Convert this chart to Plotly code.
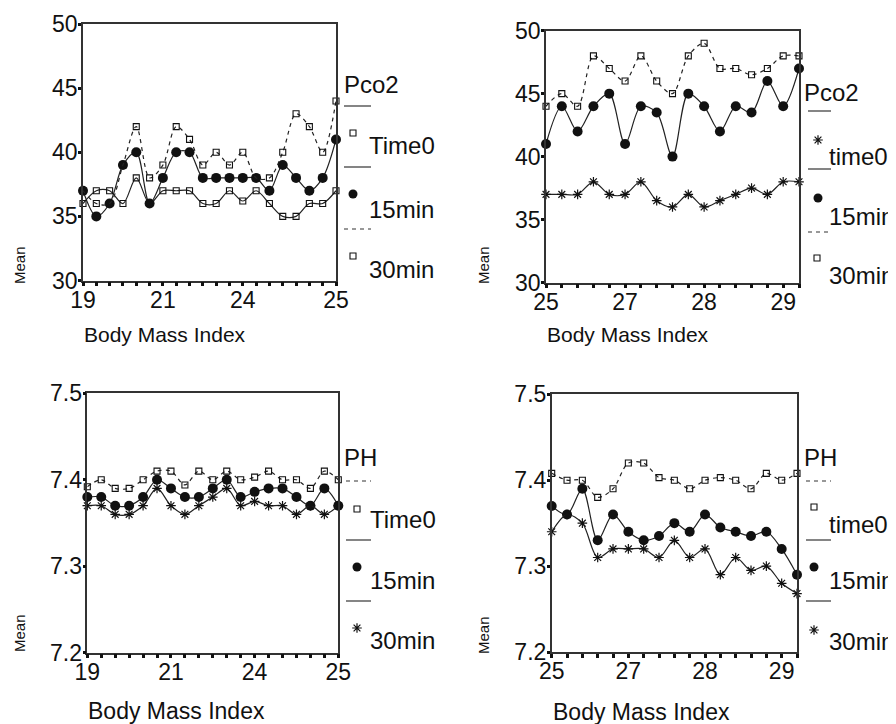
import plotly.graph_objects as go

# ---------------- data ----------------
# Panel 1: Pco2, BMI 19-25
p1_tickpos = [0, 6, 12, 19]
p1_ticklab = ["19", "21", "24", "25"]
p1_time0 = [36, 37, 37, 36, 38, 36, 37, 37, 37, 36, 36, 37, 36.2, 37, 36, 35, 35, 36, 36, 37]
p1_15min = [37, 35, 36, 39, 40, 36, 38, 40, 40, 38, 38, 38, 38, 38, 37, 39, 38, 37, 38, 41]
p1_30min = [37, 36, 36, 39, 42, 38, 39, 42, 41, 39, 40, 39, 40, 38, 38, 40, 43, 42, 40, 44]

# Panel 2: Pco2, BMI 25-29
p2_tickpos = [0, 5, 10, 15]
p2_ticklab = ["25", "27", "28", "29"]
p2_time0 = [37, 37, 37, 38, 37, 37, 38, 36.5, 36, 37, 36, 36.5, 37, 37.5, 37, 38, 38]
p2_15min = [41, 44, 42, 44, 45, 41, 44, 43.5, 40, 45, 44, 42, 44, 43.5, 46, 44, 47]
p2_30min = [44, 45, 44, 48, 47, 46, 48, 46, 45, 48, 49, 47, 47, 46.5, 47, 48, 48]

# Panel 3: PH, BMI 19-25
p3_tickpos = [0, 6, 12, 18]
p3_ticklab = ["19", "21", "24", "25"]
p3_time0 = [7.392, 7.40, 7.39, 7.39, 7.40, 7.41, 7.41, 7.394, 7.41, 7.40, 7.41, 7.40, 7.403, 7.41, 7.40, 7.40, 7.39, 7.41, 7.40]
p3_15min = [7.38, 7.38, 7.37, 7.37, 7.38, 7.40, 7.39, 7.38, 7.38, 7.39, 7.40, 7.38, 7.386, 7.39, 7.39, 7.38, 7.37, 7.39, 7.37]
p3_30min = [7.37, 7.37, 7.36, 7.36, 7.37, 7.39, 7.37, 7.36, 7.37, 7.38, 7.39, 7.37, 7.375, 7.37, 7.37, 7.36, 7.37, 7.36, 7.37]

# Panel 4: PH, BMI 25-29
p4_tickpos = [0, 5, 10, 15]
p4_ticklab = ["25", "27", "28", "29"]
p4_time0 = [7.408, 7.40, 7.40, 7.38, 7.39, 7.42, 7.42, 7.403, 7.40, 7.39, 7.40, 7.403, 7.40, 7.39, 7.408, 7.40, 7.408]
p4_15min = [7.37, 7.36, 7.39, 7.33, 7.36, 7.34, 7.33, 7.335, 7.35, 7.34, 7.36, 7.345, 7.34, 7.335, 7.34, 7.32, 7.29]
p4_30min = [7.34, 7.36, 7.35, 7.31, 7.32, 7.32, 7.32, 7.31, 7.33, 7.31, 7.32, 7.29, 7.31, 7.295, 7.30, 7.28, 7.268]

pco2_ticks = [30, 35, 40, 45, 50]
ph_ticks = [7.2, 7.3, 7.4, 7.5]
ph_ticklab = ["7.2", "7.3", "7.4", "7.5"]

# ---------------- styling ----------------
OFF = 8                      # page body margin
W, H = 896 - OFF, 724 - OFF  # figure size so the page fits the window
FONT = "Liberation Sans, Arial, sans-serif"
INK = "#111111"
LINE = "#222222"
AXC = "#333333"

def fx(px):
    return (px - OFF) / W

def fy(py):
    return 1 - (py - OFF) / H

SQ = dict(symbol="square-open", size=6, color=INK, line=dict(width=1.1, color=INK))
CI = dict(symbol="circle", size=10, color=INK)
AS = dict(symbol="asterisk-open", size=8, color=INK, line=dict(width=1.2, color=INK))

fig = go.Figure()

panels = [
    ("", (83, 336), (24, 280.5), [30, 50], pco2_ticks, [str(v) for v in pco2_ticks], p1_tickpos, p1_ticklab,
     [(p1_time0, SQ, "solid"), (p1_15min, CI, "solid"), (p1_30min, SQ, "dash")]),
    ("2", (546, 799), (30.7, 282.5), [30, 50], pco2_ticks, [str(v) for v in pco2_ticks], p2_tickpos, p2_ticklab,
     [(p2_time0, AS, "solid"), (p2_15min, CI, "solid"), (p2_30min, SQ, "dash")]),
    ("3", (87.3, 338.3), (393.3, 652.7), [7.2, 7.5], ph_ticks, ph_ticklab, p3_tickpos, p3_ticklab,
     [(p3_time0, SQ, "dash"), (p3_15min, CI, "solid"), (p3_30min, AS, "solid")]),
    ("4", (551.7, 797), (394.3, 652), [7.2, 7.5], ph_ticks, ph_ticklab, p4_tickpos, p4_ticklab,
     [(p4_time0, SQ, "dash"), (p4_15min, CI, "solid"), (p4_30min, AS, "solid")]),
]

layout_axes = {}
for suf, (x0, x1), (y0, y1), yr, yt, ytl, tpos, tlab, series in panels:
    n = len(series[0][0])
    xs = list(range(n))
    xa = "x" + suf
    ya = "y" + suf
    for vals, mk, dash in series:
        fig.add_trace(go.Scatter(
            x=xs, y=vals, xaxis=xa, yaxis=ya, mode="lines+markers",
            line=dict(color=LINE, width=1.2, shape="spline", smoothing=0.9,
                      dash="4px,4px" if dash == "dash" else "solid"),
            marker=mk, cliponaxis=False, showlegend=False, hoverinfo="skip"))
    labmap = dict(zip(tpos, tlab))
    layout_axes["xaxis" + suf] = dict(
        domain=[fx(x0), fx(x1)], anchor=ya, range=[0, n - 1], automargin=False,
        tickmode="array", tickvals=xs, ticktext=[labmap.get(i, "") for i in xs],
        ticks="outside", ticklen=4, tickwidth=3, tickcolor=INK, ticklabelstandoff=-6,
        showline=True, linecolor=AXC, linewidth=1.5, mirror=True,
        showgrid=False, zeroline=False,
        tickfont=dict(family=FONT, size=23, color=INK))
    layout_axes["yaxis" + suf] = dict(
        domain=[fy(y1), fy(y0)], anchor=xa, range=yr, automargin=False,
        tickmode="array", tickvals=yt, ticktext=ytl,
        ticks="outside", ticklen=3, tickwidth=3, tickcolor=INK, ticklabelstandoff=-4,
        showline=True, linecolor=AXC, linewidth=1.5, mirror=True,
        showgrid=False, zeroline=False,
        tickfont=dict(family=FONT, size=23, color=INK))

# ---------------- custom legends & titles ----------------
annotations = []
shapes = []

def text(px, py, s, size=24, anchor="left", angle=0):
    annotations.append(dict(xref="paper", yref="paper", x=fx(px), y=fy(py), text=s,
                            showarrow=False, xanchor=anchor, yanchor="middle", textangle=angle,
                            borderpad=0, font=dict(family=FONT, size=size, color=INK)))

def hline(x0, x1, py, dash="solid"):
    shapes.append(dict(type="line", xref="paper", yref="paper", x0=fx(x0), x1=fx(x1),
                       y0=fy(py), y1=fy(py), line=dict(color="#333333", width=1.2, dash=dash)))

leg_x, leg_y, leg_m = [], [], []

def key(px, py, mk):
    leg_x.append(px)
    leg_y.append(py)
    leg_m.append(mk)

legends = [
    ("Pco2", (343, 84), 344, 371,
     [(106, "solid", SQ, (353, 133), "Time0", (368, 146)),
      (167, "solid", CI, (353, 194), "15min", (368, 209)),
      (229, "4px,4px", SQ, (353, 256), "30min", (368, 270))]),
    ("Pco2", (803, 92), 808, 831,
     [(111, "solid", AS, (818, 140), "time0", (828, 157)),
      (169, "solid", CI, (818, 198), "15min", (828, 216)),
      (232, "4px,4px", SQ, (817, 258), "30min", (828, 275))]),
    ("PH", (343, 457), 346, 371,
     [(481, "4px,4px", SQ, (357, 509), "Time0", (369, 519)),
      (540, "solid", CI, (357, 567), "15min", (369, 580)),
      (601, "solid", AS, (357, 628), "30min", (369, 640))]),
    ("PH", (803, 457), 806, 831,
     [(481, "4px,4px", SQ, (814, 507), "time0", (828, 524)),
      (540, "solid", CI, (814, 567), "15min", (828, 580)),
      (601, "solid", AS, (814, 630), "30min", (828, 641))]),
]

for title, (tx, ty), lx0, lx1, entries in legends:
    text(tx, ty, title)
    for ly, dash, mk, (mx, my), lab, (labx, laby) in entries:
        hline(lx0, lx1, ly, dash)
        key(mx, my, mk)
        text(labx, laby, lab)

for mk_i, (px, py) in enumerate(zip(leg_x, leg_y)):
    mk = dict(leg_m[mk_i])
    if mk["symbol"] == "circle":
        mk["size"] = 9
    fig.add_trace(go.Scatter(x=[px], y=[py], xaxis="x5", yaxis="y5", mode="markers",
                             marker=mk, showlegend=False, hoverinfo="skip", cliponaxis=False))

layout_axes["xaxis5"] = dict(domain=[0, 1], range=[OFF, OFF + W], visible=False, anchor="y5", automargin=False)
layout_axes["yaxis5"] = dict(domain=[0, 1], range=[OFF + H, OFF], visible=False, anchor="x5", automargin=False)

text(19, 265, "Mean", size=15, anchor="center", angle=-90)
text(483, 265, "Mean", size=15, anchor="center", angle=-90)
text(19, 633, "Mean", size=15, anchor="center", angle=-90)
text(483, 635, "Mean", size=15, anchor="center", angle=-90)
text(83, 334, "Body Mass Index", size=21)
text(546, 334, "Body Mass Index", size=21)
text(87, 711, "Body Mass Index", size=23)
text(552, 712, "Body Mass Index", size=23)

fig.update_layout(
    width=W, height=H, margin=dict(l=0, r=0, t=0, b=0, pad=0, autoexpand=False),
    paper_bgcolor="white", plot_bgcolor="rgba(0,0,0,0)",
    showlegend=False, annotations=annotations, shapes=shapes,
    **layout_axes)

fig.write_html("out.html")
